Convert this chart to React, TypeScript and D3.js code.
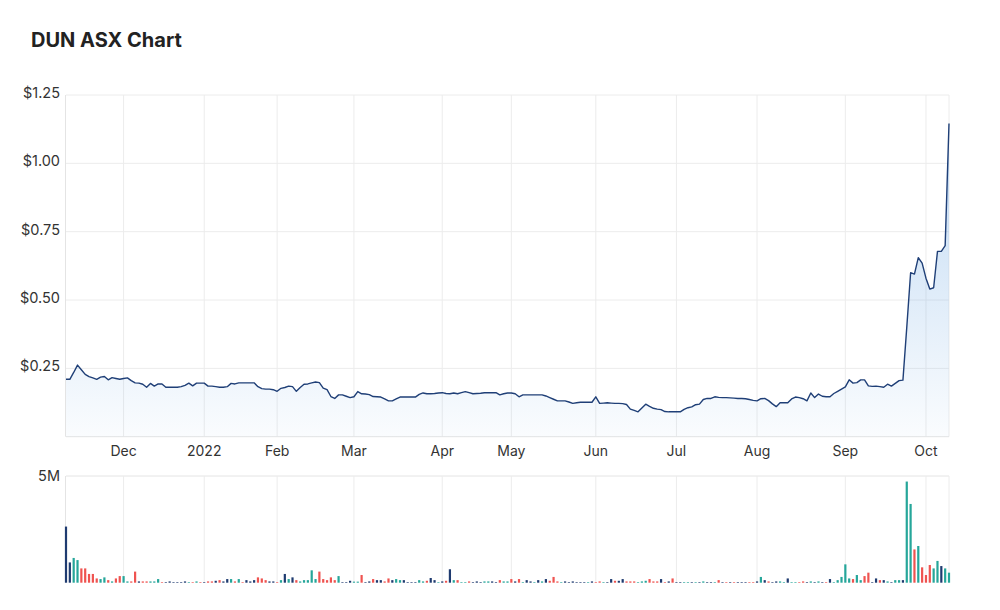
import React from "react";
import * as d3 from "d3";

// daily closes, one value per ASX trading day (Nov 2021 -> Oct 2022)
const novPrices = [0.21, 0.21, 0.235, 0.262, 0.245, 0.228, 0.22, 0.215, 0.21, 0.218, 0.22, 0.208, 0.216, 0.213, 0.21];
const decPrices = [0.213, 0.215, 0.205, 0.197, 0.196, 0.192, 0.181, 0.195, 0.185, 0.193, 0.193, 0.181, 0.181, 0.181, 0.181, 0.183, 0.188, 0.196, 0.186, 0.196, 0.196];
const janPrices = [0.196, 0.185, 0.185, 0.183, 0.181, 0.181, 0.183, 0.195, 0.193, 0.197, 0.197, 0.197, 0.197, 0.197, 0.183, 0.176, 0.174, 0.174, 0.172];
const febPrices = [0.166, 0.177, 0.18, 0.185, 0.183, 0.166, 0.18, 0.192, 0.193, 0.197, 0.2, 0.198, 0.178, 0.172, 0.147, 0.14, 0.153, 0.153, 0.148, 0.143];
const marPrices = [0.146, 0.165, 0.157, 0.156, 0.154, 0.147, 0.146, 0.145, 0.138, 0.131, 0.131, 0.138, 0.145, 0.145, 0.145, 0.145, 0.145, 0.155, 0.16, 0.157, 0.157, 0.158, 0.16];
const aprPrices = [0.161, 0.158, 0.157, 0.16, 0.157, 0.161, 0.165, 0.161, 0.157, 0.158, 0.159, 0.161, 0.161, 0.161, 0.161, 0.153, 0.157, 0.16];
const mayPrices = [0.16, 0.157, 0.146, 0.153, 0.153, 0.153, 0.153, 0.153, 0.153, 0.149, 0.143, 0.137, 0.131, 0.131, 0.131, 0.127, 0.122, 0.124, 0.126, 0.126, 0.126, 0.126];
const junPrices = [0.146, 0.122, 0.123, 0.124, 0.123, 0.122, 0.122, 0.121, 0.118, 0.101, 0.096, 0.091, 0.105, 0.119, 0.111, 0.104, 0.101, 0.099, 0.092, 0.091, 0.091];
const julPrices = [0.091, 0.091, 0.1, 0.106, 0.109, 0.117, 0.119, 0.136, 0.14, 0.14, 0.146, 0.144, 0.143, 0.143, 0.142, 0.141, 0.14, 0.14, 0.139, 0.136, 0.133];
const augPrices = [0.131, 0.139, 0.14, 0.132, 0.12, 0.11, 0.124, 0.124, 0.124, 0.138, 0.145, 0.143, 0.139, 0.131, 0.16, 0.143, 0.156, 0.148, 0.146, 0.146, 0.158, 0.166, 0.174];
const sepPrices = [0.182, 0.208, 0.196, 0.198, 0.208, 0.208, 0.186, 0.184, 0.185, 0.183, 0.181, 0.192, 0.185, 0.195, 0.205, 0.207, 0.4, 0.6, 0.595, 0.655, 0.635];
const octPrices = [0.58, 0.54, 0.545, 0.678, 0.678, 0.699, 1.146];

// volume in millions of shares
const novVolume = [2.63, 0.95, 1.16, 1.06, 0.67, 0.67, 0.41, 0.41, 0.2, 0.17, 0.25, 0.12, 0.06, 0.2, 0.31];
const decVolume = [0.31, 0.06, 0.06, 0.52, 0.06, 0.06, 0.06, 0.06, 0.06, 0.17, 0.03, 0.03, 0.06, 0.03, 0.03, 0.03, 0.06, 0.03, 0.03, 0.06, 0.03];
const janVolume = [0.03, 0.06, 0.06, 0.09, 0.12, 0.06, 0.17, 0.17, 0.06, 0.17, 0.03, 0.12, 0.06, 0.12, 0.25, 0.2, 0.12, 0.06, 0.06];
const febVolume = [0.03, 0.12, 0.41, 0.17, 0.25, 0.12, 0.06, 0.12, 0.12, 0.58, 0.17, 0.52, 0.17, 0.12, 0.25, 0.12, 0.31, 0.03, 0.03, 0.09];
const marVolume = [0.05, 0.05, 0.36, 0.03, 0.06, 0.17, 0.12, 0.12, 0.06, 0.2, 0.12, 0.17, 0.12, 0.12, 0.03, 0.03, 0.03, 0.12, 0.06, 0.09, 0.22, 0.12, 0.03];
const aprVolume = [0.06, 0.09, 0.63, 0.12, 0.12, 0.03, 0.03, 0.06, 0.03, 0.06, 0.03, 0.06, 0.06, 0.06, 0.03, 0.12, 0.06, 0.06];
const mayVolume = [0.17, 0.06, 0.17, 0.03, 0.12, 0.06, 0.03, 0.12, 0.06, 0.17, 0.09, 0.27, 0.06, 0.03, 0.06, 0.03, 0.06, 0.03, 0.03, 0.03, 0.03, 0.06];
const junVolume = [0.03, 0.06, 0.03, 0.03, 0.17, 0.09, 0.09, 0.17, 0.06, 0.06, 0.06, 0.03, 0.06, 0.09, 0.17, 0.06, 0.06, 0.17, 0.03, 0.06, 0.2];
const julVolume = [0.03, 0.03, 0.03, 0.03, 0.03, 0.03, 0.03, 0.06, 0.03, 0.03, 0.03, 0.12, 0.03, 0.03, 0.03, 0.03, 0.03, 0.03, 0.03, 0.03, 0.03];
const augVolume = [0.06, 0.27, 0.12, 0.06, 0.03, 0.06, 0.06, 0.03, 0.2, 0.03, 0.03, 0.03, 0.06, 0.03, 0.06, 0.03, 0.06, 0.03, 0.03, 0.17, 0.03, 0.12, 0.27];
const sepVolume = [0.86, 0.2, 0.17, 0.36, 0.12, 0.31, 0.47, 0.03, 0.2, 0.12, 0.12, 0.06, 0.03, 0.12, 0.12, 0.12, 4.74, 3.69, 1.56, 1.72, 0.72];
const octVolume = [0.36, 0.83, 0.67, 1.02, 0.78, 0.67, 0.47];

// bar colour per day: u = up, d = down, n = unchanged
const novDir = ["n", "n", "u", "u", "d", "d", "d", "d", "d", "u", "u", "d", "u", "d", "d"];
const decDir = ["u", "u", "d", "d", "n", "d", "d", "u", "u", "u", "d", "n", "n", "n", "n", "n", "n", "u", "d", "u", "d"];
const janDir = ["n", "d", "d", "n", "d", "n", "n", "u", "d", "u", "d", "n", "n", "n", "d", "d", "d", "n", "n"];
const febDir = ["d", "u", "n", "u", "n", "d", "u", "u", "u", "u", "u", "d", "d", "d", "d", "d", "u", "n", "n", "n"];
const marDir = ["u", "u", "d", "n", "n", "d", "n", "n", "d", "d", "n", "u", "u", "n", "n", "n", "n", "u", "u", "d", "n", "n", "u"];
const aprDir = ["n", "d", "n", "u", "d", "u", "u", "d", "n", "n", "n", "u", "u", "n", "n", "d", "u", "u"];
const mayDir = ["d", "n", "d", "u", "n", "n", "u", "n", "u", "n", "d", "d", "d", "u", "n", "n", "n", "n", "n", "n", "u", "n"];
const junDir = ["d", "d", "u", "n", "n", "d", "n", "n", "d", "d", "d", "u", "u", "u", "d", "d", "d", "n", "d", "n", "d"];
const julDir = ["n", "n", "u", "u", "n", "u", "n", "u", "n", "n", "u", "d", "n", "d", "n", "d", "n", "n", "n", "d", "d"];
const augDir = ["n", "u", "n", "d", "n", "n", "u", "u", "n", "u", "u", "d", "d", "n", "u", "n", "u", "n", "d", "n", "u", "u", "u"];
const sepDir = ["u", "u", "d", "u", "u", "d", "d", "n", "n", "d", "n", "u", "n", "u", "u", "n", "u", "u", "d", "u", "d"];
const octDir = ["d", "d", "u", "u", "n", "u", "u"];

// first trading day of each month (day index) and its label
const tickIndex = [15, 36, 55, 75, 98, 116, 138, 159, 180, 203, 224];
const tickLabels = ["Dec", "2022", "Feb", "Mar", "Apr", "May", "Jun", "Jul", "Aug", "Sep", "Oct"];
const priceTicks = [0.25, 0.5, 0.75, 1.0, 1.25];

const prices = [...novPrices, ...decPrices, ...janPrices, ...febPrices, ...marPrices, ...aprPrices, ...mayPrices, ...junPrices, ...julPrices, ...augPrices, ...sepPrices, ...octPrices];
const volumes = [...novVolume, ...decVolume, ...janVolume, ...febVolume, ...marVolume, ...aprVolume, ...mayVolume, ...junVolume, ...julVolume, ...augVolume, ...sepVolume, ...octVolume];
const dirs = [...novDir, ...decDir, ...janDir, ...febDir, ...marDir, ...aprDir, ...mayDir, ...junDir, ...julDir, ...augDir, ...sepDir, ...octDir];

const colors: Record<string, string> = { u: "#26a69a", d: "#ef5350", n: "#1f3b70" };
const font = "Inter, 'Open Sans', sans-serif";
const gridColor = "#ececec";

export default function App() {
  const width = 1000;
  const height = 610;
  const left = 66;
  const right = 949;
  const priceTop = 95;
  const priceBottom = 436.7;
  const volTop = 476;
  const volBottom = 582.7;

  const data = prices.map((p, i) => ({ i, p, v: volumes[i], dir: dirs[i] }));

  const x = d3.scaleLinear().domain([0, prices.length - 1]).range([left, right]);
  const y = d3.scaleLinear().domain([0, 1.25]).range([priceBottom, priceTop]);
  const yVol = d3.scaleLinear().domain([0, 5]).range([volBottom, volTop]);

  const line = d3
    .line<any>()
    .x((d) => x(d.i))
    .y((d) => y(d.p));
  const area = d3
    .area<any>()
    .x((d) => x(d.i))
    .y0(priceBottom)
    .y1((d) => y(d.p));

  return (
    <svg
      width={width}
      height={height}
      style={{ position: "absolute", left: 0, top: 0, background: "#fff" }}
      fontFamily={font}
    >
      <defs>
        <linearGradient id="fillGrad" gradientUnits="userSpaceOnUse" x1="0" y1={priceTop} x2="0" y2={priceBottom}>
          <stop offset="0%" stopColor="#5b9de0" stopOpacity={0.42} />
          <stop offset="100%" stopColor="#5b9de0" stopOpacity={0.03} />
        </linearGradient>
      </defs>

      <text x={31} y={47} fontSize={20} fontWeight={700} fill="#222">
        DUN ASX Chart
      </text>

      {/* price panel grid */}
      {priceTicks.map((t) => (
        <line key={t} x1={left} x2={right} y1={y(t)} y2={y(t)} stroke={gridColor} />
      ))}
      {tickIndex.map((t) => (
        <line key={t} x1={x(t)} x2={x(t)} y1={priceTop} y2={priceBottom} stroke={gridColor} />
      ))}
      <line x1={left - 0.5} x2={left - 0.5} y1={priceTop} y2={priceBottom} stroke="#e4e4e4" />
      <line x1={right} x2={right} y1={priceTop} y2={priceBottom} stroke={gridColor} />
      <line x1={left} x2={right} y1={priceBottom} y2={priceBottom} stroke="#e4e4e4" />

      <path d={area(data) || ""} fill="url(#fillGrad)" />
      <path d={line(data) || ""} fill="none" stroke="#1f3f77" strokeWidth={1.4} strokeLinejoin="round" />

      {priceTicks.map((t) => (
        <text key={t} x={60} y={y(t) - 1} textAnchor="end" dominantBaseline="middle" fontSize={14.5} fill="#333">
          {"$" + t.toFixed(2)}
        </text>
      ))}

      {tickIndex.map((t, k) => (
        <text key={t} x={x(t)} y={456} textAnchor="middle" fontSize={14} fill="#333">
          {tickLabels[k]}
        </text>
      ))}

      {/* volume panel */}
      <line x1={left} x2={right} y1={volTop} y2={volTop} stroke="#e4e4e4" />
      <line x1={left - 0.5} x2={left - 0.5} y1={volTop} y2={volBottom} stroke="#e4e4e4" />
      <line x1={right} x2={right} y1={volTop} y2={volBottom} stroke={gridColor} />
      {tickIndex.map((t) => (
        <line key={t} x1={x(t)} x2={x(t)} y1={volTop} y2={volBottom} stroke={gridColor} />
      ))}
      <text x={60} y={volTop + 1} textAnchor="end" dominantBaseline="middle" fontSize={14.5} fill="#333">
        5M
      </text>

      {data.map((d) => (
        <rect
          key={d.i}
          x={x(d.i) - 1.1}
          y={yVol(d.v)}
          width={2.2}
          height={volBottom - yVol(d.v)}
          fill={colors[d.dir]}
        />
      ))}
    </svg>
  );
}
